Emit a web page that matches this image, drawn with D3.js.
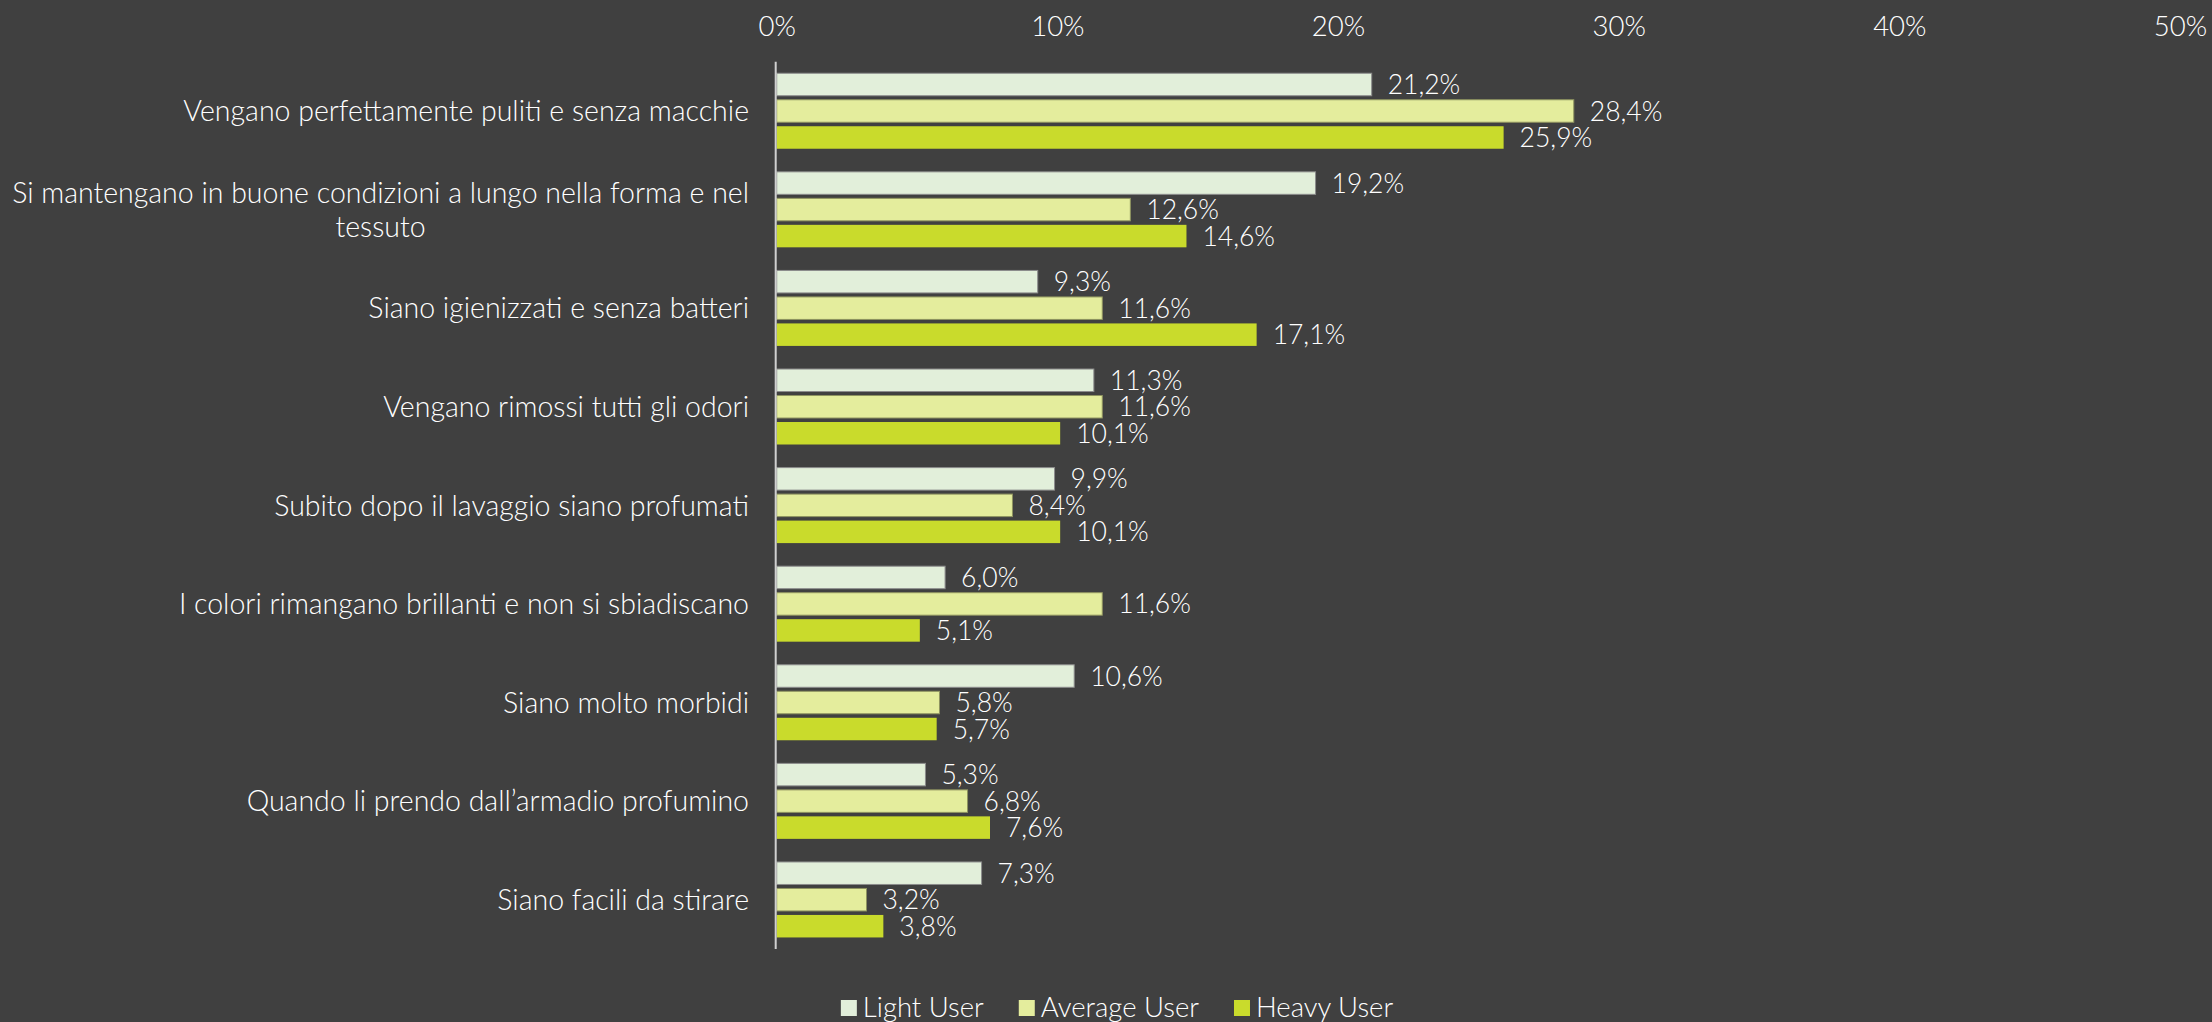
<!DOCTYPE html>
<html>
<head>
<meta charset="utf-8">
<script src="https://cdn.jsdelivr.net/npm/d3@7"></script>
<style>
  html, body { margin: 0; padding: 0; background: #404040; }
  svg { display: block; }
  text { font-family: Lato, "Open Sans", sans-serif; font-weight: 300; fill: #ffffff; }
</style>
</head>
<body>
<svg id="chart" width="2212" height="1022"></svg>
<script>
// Survey answers: what matters most after washing, by user segment (share of respondents, %)
const categories = [
  "Vengano perfettamente puliti e senza macchie",
  "Si mantengano in buone condizioni a lungo nella forma e nel\ntessuto",
  "Siano igienizzati e senza batteri",
  "Vengano rimossi tutti gli odori",
  "Subito dopo il lavaggio siano profumati",
  "I colori rimangano brillanti e non si sbiadiscano",
  "Siano molto morbidi",
  "Quando li prendo dall’armadio profumino",
  "Siano facili da stirare"
];
const seriesNames = ["Light User", "Average User", "Heavy User"];
const lightUser   = [21.2, 19.2, 9.3, 11.3, 9.9, 6.0, 10.6, 5.3, 7.3];
const averageUser = [28.4, 12.6, 11.6, 11.6, 8.4, 11.6, 5.8, 6.8, 3.2];
const heavyUser   = [25.9, 14.6, 17.1, 10.1, 10.1, 5.1, 5.7, 7.6, 3.8];
const tickValues  = [0, 10, 20, 30, 40, 50];

const seriesValues = [lightUser, averageUser, heavyUser];
const fills   = ["#E2EFDA", "#E4ED9D", "#C9DB2C"];
const strokes = ["#8c8c8c", "#8f9460", "none"];

const svg = d3.select("#chart");
const fmt = v => d3.format(".1f")(v).replace(".", ",") + "%";

const x = d3.scaleLinear().domain([0, 50]).range([776.7, 2180]);
const y = d3.scaleBand().domain(d3.range(categories.length)).range([61.7, 949]).paddingInner(0).paddingOuter(0);
const yInner = d3.scaleBand().domain(d3.range(seriesNames.length))
  .range([0, y.bandwidth()]).paddingInner(0.151).paddingOuter(0.436);

// Top percentage axis (labels only)
const axis = svg.append("g")
  .attr("transform", "translate(0,36)")
  .call(d3.axisTop(x).tickValues(tickValues).tickSize(0).tickPadding(0).tickFormat(d => d + "%"));
axis.select(".domain").remove();
axis.selectAll("text")
  .attr("fill", "#ffffff")
  .style("font-family", "Lato, 'Open Sans', sans-serif")
  .style("font-weight", 300)
  .style("font-size", "27.5px")
  .attr("dy", "0");

// Bars and value labels
const groups = svg.append("g").selectAll("g.group")
  .data(categories.map((c, i) => i))
  .join("g")
  .attr("class", "group")
  .attr("transform", i => `translate(0,${y(i)})`);

groups.each(function(i) {
  const g = d3.select(this);
  seriesValues.forEach((vals, s) => {
    const v = vals[i];
    g.append("rect")
      .attr("x", x(0))
      .attr("y", yInner(s))
      .attr("width", x(v) - x(0))
      .attr("height", yInner.bandwidth())
      .attr("fill", fills[s])
      .attr("stroke", strokes[s])
      .attr("stroke-width", 1);
    g.append("text")
      .attr("x", x(v) + 16)
      .attr("y", yInner(s) + yInner.bandwidth() / 2)
      .attr("dy", "0.36em")
      .style("font-size", "26.5px")
      .text(fmt(v));
  });
});

// Category axis line
svg.append("line")
  .attr("x1", x(0) - 1).attr("x2", x(0) - 1)
  .attr("y1", y.range()[0]).attr("y2", y.range()[1])
  .attr("stroke", "#d0d0d0").attr("stroke-width", 2);

// Category labels: right aligned block, lines centred within the block
const labelRight = 749;
const lineH = 34;
categories.forEach((c, i) => {
  const lines = c.split("\n");
  const cy = y(i) + y.bandwidth() / 2;
  const t = svg.append("text")
    .style("font-size", "28.5px")
    .attr("text-anchor", "middle");
  lines.forEach((ln, k) => {
    t.append("tspan")
      .attr("x", 0)
      .attr("y", cy + (k - (lines.length - 1) / 2) * lineH)
      .attr("dy", "0.36em")
      .text(ln);
  });
  const w = d3.max(t.selectAll("tspan").nodes(), n => n.getComputedTextLength());
  t.selectAll("tspan").attr("x", labelRight - w / 2);
});

// Legend
const legend = svg.append("g");
const itemGap = 35;
let lx = 0;
seriesNames.forEach((name, s) => {
  const item = legend.append("g").attr("transform", `translate(${lx},0)`);
  item.append("rect").attr("x", 0).attr("y", -7).attr("width", 16).attr("height", 16).attr("fill", fills[s]);
  const tx = item.append("text").attr("x", 22).attr("dy", "0.36em").style("font-size", "27.5px").text(name);
  lx += 22 + tx.node().getComputedTextLength() + itemGap;
});
const legendW = lx - itemGap;
legend.attr("transform", `translate(${1117 - legendW / 2},1007)`);
</script>
</body>
</html>
